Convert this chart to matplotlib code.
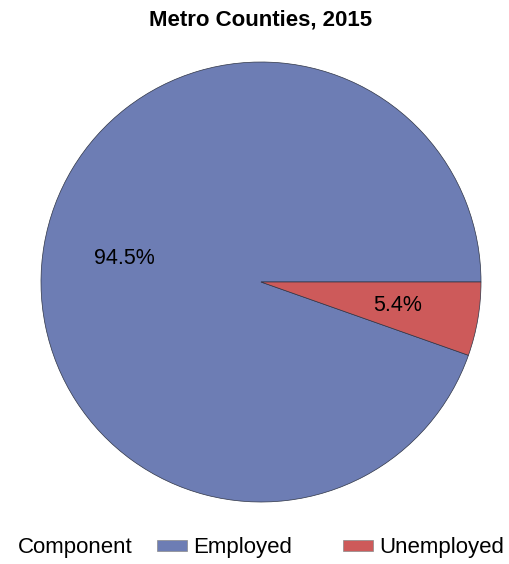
import matplotlib.pyplot as plt
from matplotlib.patches import Patch

plt.rcParams['font.family'] = ['Liberation Sans', 'DejaVu Sans']

# share of labour force, metro counties 2015
components = ['Employed', 'Unemployed']
shares = [94.5, 5.4]
colors = ['#6D7DB4', '#CD5A5A']

total = sum(shares)

fig = plt.figure(figsize=(5.1, 5.64), dpi=100)
ax = fig.add_axes([41 / 510, 62 / 564, 440 / 510, 440 / 564])

# show the raw shares, not the renormalised ones
wedges, texts, autotexts = ax.pie(
    shares, colors=colors, startangle=0, counterclock=True,
    autopct=lambda p: '%.1f%%' % (p * total / 100), pctdistance=0.63, radius=1,
    wedgeprops={'edgecolor': '#2E3445', 'linewidth': 0.5},
    textprops={'fontsize': 15.5, 'color': 'black'})
ax.set_xlim(-1, 1)
ax.set_ylim(-1, 1)
ax.set_aspect('equal')

fig.text(261 / 510, 1 - 20 / 564, 'Metro Counties, 2015',
         ha='center', va='center', fontsize=16, fontweight='bold')

# legend along the bottom
fig.text(18 / 510, 1 - 548 / 564, 'Component', ha='left', va='center', fontsize=16)
handles = [Patch(facecolor=c, edgecolor='#8a8a8a', linewidth=0.5) for c in colors]
fig.legend(handles, components, ncol=2, loc='center left',
           bbox_to_anchor=(157 / 510, 1 - 548 / 564), frameon=False,
           fontsize=16, handlelength=1.35, handleheight=0.35,
           handletextpad=0.27, columnspacing=2.3, borderpad=0, borderaxespad=0)

fig.savefig('out.png', dpi=100)
